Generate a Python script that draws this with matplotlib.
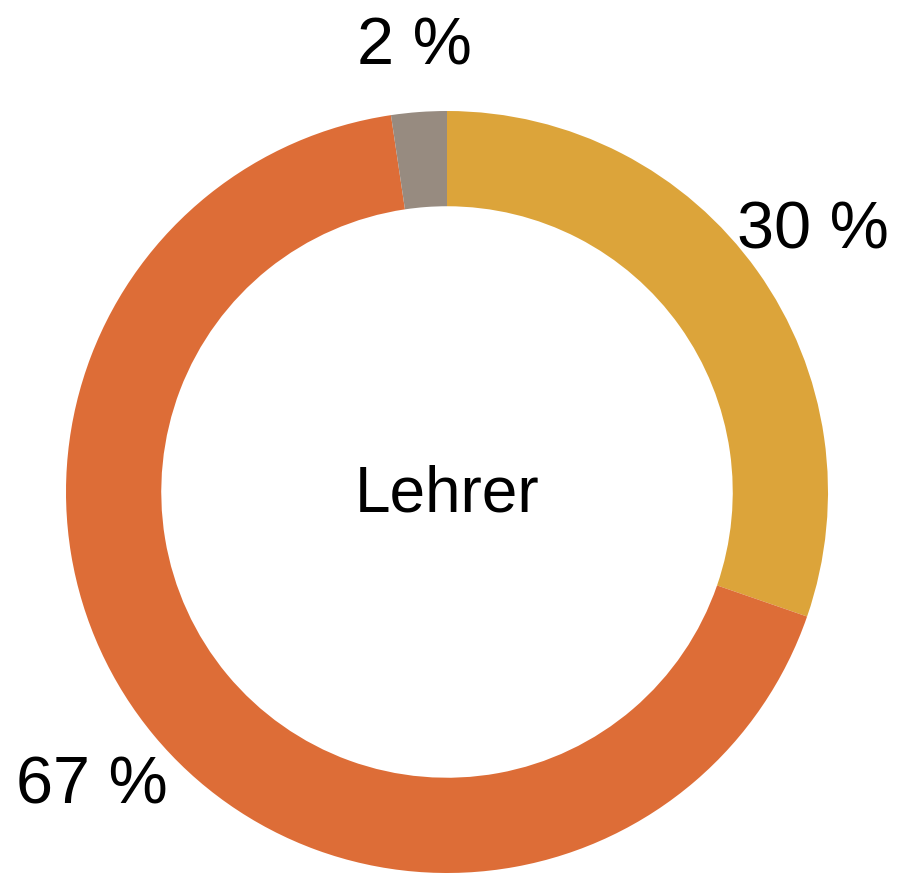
import numpy as np
import matplotlib
matplotlib.use("Agg")
import matplotlib.pyplot as plt

categories = ["Gold", "Orange", "Grau"]
values = [30.3, 67.35, 2.35]
labels = ["30 %", "67 %", "2 %"]
colors = ["#DCA43A", "#DD6D37", "#978B80"]
center_label = "Lehrer"

plt.rcParams['font.family'] = ['Liberation Sans', 'DejaVu Sans']

W, H = 899, 873
fig = plt.figure(figsize=(W / 100, H / 100), dpi=100)
ax = fig.add_axes([0, 0, 1, 1])

cx, cy, R = 447, 381, 381
wedges, _ = ax.pie(values, colors=colors, startangle=90, counterclock=False,
                   radius=R, center=(cx, cy), frame=True,
                   wedgeprops=dict(width=R * 0.25, linewidth=0))
ax.set_xlim(0, W)
ax.set_ylim(0, H)
ax.axis('off')

dists = [1.18, 1.21, 1.17]
for w, lab, d in zip(wedges, labels, dists):
    ang = np.deg2rad((w.theta1 + w.theta2) / 2)
    ax.text(cx + d * R * np.cos(ang), cy + d * R * np.sin(ang), lab,
            ha='center', va='center', fontsize=48, color='black')

ax.text(cx, cy - 3, center_label, ha='center', va='center', fontsize=46, color='black')

fig.savefig("out.png", dpi=100)
